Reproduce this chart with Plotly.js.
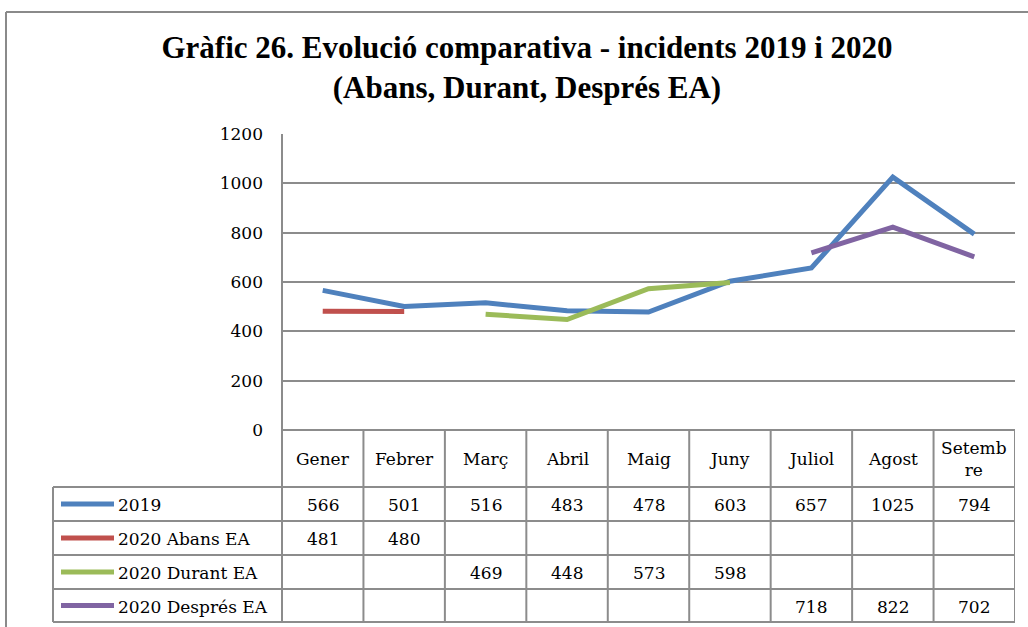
<!DOCTYPE html>
<html><head><meta charset="utf-8">
<script src="https://cdn.plot.ly/plotly-3.0.1.min.js"></script>
<style>html,body{margin:0;padding:0;background:#fff}</style>
</head><body><div id="chart" style="width:1028px;height:627px"></div>
<script>
const categories = ['Gener','Febrer','Març','Abril','Maig','Juny','Juliol','Agost','Setembre'];
const headerLabels = ['Gener','Febrer','Març','Abril','Maig','Juny','Juliol','Agost','Setemb<br>re'];
const seriesNames = ['2019','2020 Abans EA','2020 Durant EA','2020 Després EA'];
const values2019 = [566,501,516,483,478,603,657,1025,794];
const valuesAbans = [481,480,null,null,null,null,null,null,null];
const valuesDurant = [null,null,469,448,573,598,null,null,null];
const valuesDespres = [null,null,null,null,null,null,718,822,702];
const yTicks = [0,200,400,600,800,1000,1200];
const colors = ['#4F81BD','#C0504D','#9BBB59','#8064A2'];

const allSeries = [values2019, valuesAbans, valuesDurant, valuesDespres];

// layout geometry (pixels)
const W = 1028, Hh = 627;
const L = 282, R = 1015, T = 134, B = 430;
const PW = R - L, PH = B - T;
const px = p => (p - L) / PW;
const py = p => (B - p) / PH;
const rowLines = [487, 521, 555, 589, 622];
const tableLeft = 53;
const gridCol = '#8c8c8c';
const font = 'DejaVu Serif';

const traces = allSeries.map((vals, i) => ({
  type: 'scatter', mode: 'lines', name: seriesNames[i],
  x: categories, y: vals, connectgaps: false,
  line: {color: colors[i], width: 5},
  showlegend: false, hoverinfo: 'skip'
}));

const shapes = [];
const ln = (x0, y0, x1, y1, color, width) => shapes.push({
  type: 'line', xref: 'paper', yref: 'paper',
  x0: px(x0), y0: py(y0), x1: px(x1), y1: py(y1),
  line: {color: color || gridCol, width: width || 2}
});
// outer chart border
ln(6, 12, W, 12, '#8a8a8a', 2);
ln(6, 12, 6, Hh, '#8a8a8a', 2);
// y axis line & table
ln(L, T, L, rowLines[rowLines.length - 1]);
ln(L, B, R, B);
rowLines.forEach(y => ln(tableLeft, y, R, y));
ln(tableLeft, rowLines[0], tableLeft, rowLines[rowLines.length - 1]);
for (let i = 1; i <= categories.length; i++) {
  shapes.push({type: 'line', xref: 'x', yref: 'paper',
    x0: i - 0.5, x1: i - 0.5, y0: py(B), y1: py(rowLines[rowLines.length - 1]),
    line: {color: gridCol, width: 2}});
}
// legend keys
const rowCenters = rowLines.slice(0, -1).map((y, i) => (y + rowLines[i + 1]) / 2);
seriesNames.forEach((n, i) => {
  shapes.push({type: 'line', xref: 'paper', yref: 'paper',
    x0: px(61), x1: px(114), y0: py(rowCenters[i]), y1: py(rowCenters[i]),
    line: {color: colors[i], width: 5}});
});

const annotations = [];
const cellFont = {family: font, size: 17, color: '#000'};
headerLabels.forEach((lab, i) => annotations.push({
  xref: 'x', yref: 'paper', x: i, y: py((B + rowLines[0]) / 2 + 1),
  text: lab, showarrow: false, font: cellFont, xanchor: 'center', yanchor: 'middle'
}));
allSeries.forEach((vals, r) => {
  annotations.push({xref: 'paper', yref: 'paper', x: px(116), y: py(rowCenters[r] + 1),
    text: seriesNames[r], showarrow: false, font: cellFont, xanchor: 'left', yanchor: 'middle'});
  vals.forEach((v, i) => {
    if (v === null) return;
    annotations.push({xref: 'x', yref: 'paper', x: i, y: py(rowCenters[r] + 1),
      text: String(v), showarrow: false, font: cellFont, xanchor: 'center', yanchor: 'middle'});
  });
});

const layout = {
  width: W, height: Hh,
  margin: {l: L, r: W - R, t: T, b: Hh - B},
  paper_bgcolor: '#fff', plot_bgcolor: '#fff',
  title: {
    text: 'Gràfic 26. Evolució comparativa - incidents 2019 i 2020<br>(Abans, Durant, Després EA)',
    font: {family: 'Liberation Serif', size: 31, color: '#000', weight: 'bold'},
    xref: 'container', yref: 'container', x: 527 / W, y: 1 - 58 / Hh,
    xanchor: 'center', yanchor: 'middle'
  },
  xaxis: {type: 'category', categoryarray: categories, range: [-0.5, 8.5],
    showticklabels: false, showgrid: false, zeroline: false, showline: false, fixedrange: true},
  yaxis: {range: [0, 1200], tickvals: yTicks, ticktext: yTicks.map(String),
    showgrid: true, gridcolor: gridCol, gridwidth: 2, zeroline: false, showline: false,
    tickfont: {family: font, size: 17, color: '#000'}, ticklabelstandoff: 18, fixedrange: true},
  shapes: shapes, annotations: annotations
};

Plotly.newPlot('chart', traces, layout, {displayModeBar: false, staticPlot: true});
</script></body></html>
